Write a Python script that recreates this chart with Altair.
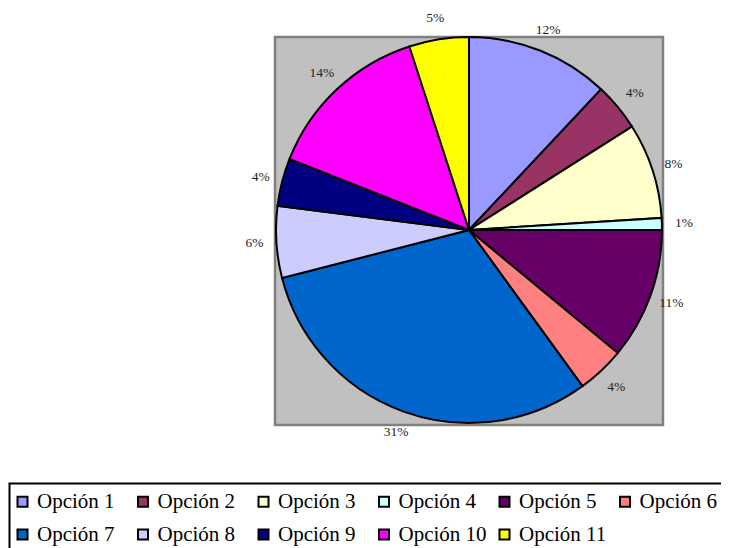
import altair as alt
import pandas as pd

categories = ["Opción 1", "Opción 2", "Opción 3", "Opción 4", "Opción 5", "Opción 6",
              "Opción 7", "Opción 8", "Opción 9", "Opción 10", "Opción 11"]
values = [12, 4, 8, 1, 11, 4, 31, 6, 4, 14, 5]
labels = ["12%", "4%", "8%", "1%", "11%", "4%", "31%", "6%", "4%", "14%", "5%"]
colors = ["#9999FF", "#993366", "#FFFFCC", "#CCFFFF", "#660066", "#FF8080",
          "#0066CC", "#CCCCFF", "#000080", "#FF00FF", "#FFFF00"]

df = pd.DataFrame({"cat": categories, "value": values, "label": labels,
                   "idx": list(range(len(categories)))})

CX, CY = 461, 222

bg = alt.Chart(pd.DataFrame({"a": [0]})).mark_rect(
    fill="#C0C0C0", stroke="#808080", strokeWidth=2.5
).encode(x=alt.value(267), x2=alt.value(655), y=alt.value(29), y2=alt.value(417))

legend_box = alt.Chart(pd.DataFrame({"a": [0]})).mark_rect(
    fillOpacity=0, stroke="black", strokeWidth=2
).encode(x=alt.value(1.5), x2=alt.value(760), y=alt.value(475.5), y2=alt.value(600))

base = alt.Chart(df).encode(
    theta=alt.Theta("value:Q", stack=True),
    order=alt.Order("idx:Q"),
    x=alt.value(CX),
    y=alt.value(CY),
)

pie = base.mark_arc(outerRadius=193, stroke="black", strokeWidth=2).encode(
    color=alt.Color(
        "cat:N",
        scale=alt.Scale(domain=categories, range=colors),
        legend=alt.Legend(
            orient="none", legendX=4, legendY=483, direction="horizontal",
            columns=6, title=None, symbolType="square", symbolSize=100,
            symbolStrokeColor="black", symbolStrokeWidth=2,
            labelFont="Liberation Serif", labelFontSize=21, labelColor="black",
            labelOffset=4, columnPadding=6.5, rowPadding=11, gridAlign="all",
            symbolOpacity=1,
        ),
    )
)

text = base.mark_text(
    radius=215, font="Liberation Serif", fontSize=13.5, color="#222222",
    align="center", baseline="middle"
).encode(text="label:N")

chart = alt.layer(bg, legend_box, pie, text).properties(
    width=713, height=540, autosize="none", padding=0
).configure_view(stroke=None)

chart.save("out.html", embed_options={"renderer": "svg", "actions": False})
